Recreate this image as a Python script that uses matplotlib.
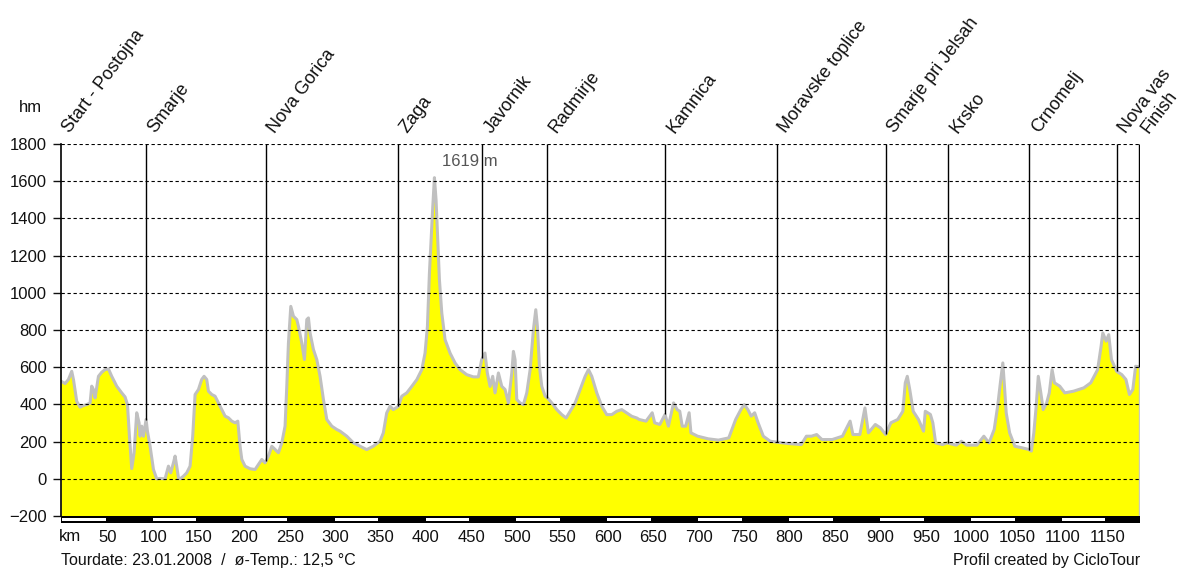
import numpy as np
import matplotlib
matplotlib.use('Agg')
import matplotlib.pyplot as plt
from matplotlib.patches import Rectangle

plt.rcParams['font.family'] = ['Liberation Sans', 'DejaVu Sans']

# elevation profile (km, m)
km = [0, 4.5, 8.2, 11.8, 13.7, 17.3, 21.0, 24.7, 28.3, 32.0, 33.8, 35.7, 37.5, 41.2, 44.8,
      48.5, 52.2, 55.8, 61.3, 66.8, 70.5, 73.1, 75.3, 77.8, 80.4, 83.3, 85.9, 87.0, 88.8,
      90.7, 93.6, 95.1, 98.0, 101.7, 105.3, 109.0, 114.5, 118.2, 120.7, 123.7, 125.5, 127.3,
      129.2, 131.0, 134.7, 138.3, 142.0, 144.9, 147.5, 151.2, 154.8, 157.4, 160.3, 162.2,
      165.9, 169.5, 173.2, 176.9, 180.5, 184.2, 187.9, 191.5, 194.5, 197.0, 198.9, 202.5,
      208.0, 213.5, 217.2, 220.9, 224.5, 228.2, 231.9, 235.5, 239.2, 242.9, 246.5, 248.4,
      250.2, 252.8, 255.7, 259.4, 261.2, 264.9, 267.8, 270.4, 272.2, 274.0, 277.7, 281.4,
      285.0, 288.7, 292.4, 297.9, 303.4, 307.0, 314.4, 321.7, 329.0, 336.3, 343.6, 350.9,
      354.6, 358.3, 362.0, 365.6, 371.2, 374.9, 380.4, 385.9, 391.4, 396.9, 400.5, 403.1,
      405.3, 407.1, 409.0, 410.8, 412.6, 414.5, 416.3, 418.9, 422.5, 428.0, 433.5, 439.0,
      446.3, 453.6, 459.1, 462.8, 466.4, 469.0, 472.0, 474.9, 477.5, 481.2, 484.9, 488.5,
      492.2, 495.9, 497.7, 499.5, 501.4, 505.0, 508.7, 512.4, 516.1, 519.7, 522.3, 524.1,
      526.3, 528.9, 532.6, 535.2, 539.9, 545.4, 550.9, 555.7, 560.1, 565.6, 571.1, 576.6,
      580.3, 583.9, 589.4, 594.9, 600.4, 605.9, 611.4, 616.9, 622.4, 627.9, 633.4, 636.0,
      643.6, 650.4, 653.1, 658.7, 664.5, 668.2, 673.9, 677.8, 680.7, 683.4, 687.2, 691.0,
      693.0, 700.4, 711.9, 723.2, 734.6, 742.2, 747.9, 751.7, 755.6, 759.3, 763.1, 766.9,
      772.6, 780.2, 787.7, 799.1, 814.3, 820.0, 825.6, 831.3, 837.1, 848.4, 859.7, 868.1,
      871.2, 878.8, 884.4, 888.2, 895.8, 901.4, 907.2, 912.9, 920.5, 926.1, 928.8, 931.0,
      933.7, 937.5, 943.3, 948.9, 950.8, 956.4, 959.1, 962.2, 969.8, 974.7, 984.9, 990.5,
      996.3, 1007.6, 1015.2, 1020.9, 1026.6, 1030.4, 1033.4, 1036.1, 1037.9, 1039.8, 1043.6,
      1049.3, 1057.0, 1064.5, 1067.5, 1070.2, 1072.8, 1075.1, 1077.9, 1080.5, 1084.3, 1087.2,
      1090.3, 1092.9, 1098.7, 1104.3, 1113.9, 1125.2, 1132.8, 1140.4, 1144.2, 1146.1, 1149.8,
      1152.6, 1155.6, 1161.3, 1167.0, 1171.5, 1175.4, 1179.1, 1182.2, 1186.0]
elev = [525, 512, 534, 578, 534, 417, 385, 394, 399, 408, 498, 480, 435, 551, 573,
        587, 591, 551, 498, 462, 440, 399, 229, 55, 140, 355, 301, 229, 283,
        229, 319, 256, 175, 50, 0, 2, 0, 68, 32, 86, 122, 68,
        5, 0, 14, 32, 68, 229, 453, 480, 534, 551, 534, 471,
        453, 444, 408, 372, 337, 328, 310, 301, 310, 175, 104, 68,
        54, 50, 77, 104, 86, 122, 175, 158, 140, 193, 283, 498,
        730, 927, 874, 856, 820, 730, 641, 856, 865, 784, 695, 641,
        551, 426, 319, 283, 265, 256, 229, 193, 175, 157, 175, 202,
        247, 354, 390, 372, 390, 444, 462, 497, 533, 587, 676, 819,
        1106, 1285, 1464, 1619, 1499, 1285, 1070, 891, 748, 676, 623, 587,
        560, 548, 548, 641, 676, 569, 497, 551, 462, 569, 497, 480,
        408, 569, 685, 641, 426, 408, 399, 462, 587, 802, 909, 819,
        605, 497, 444, 435, 408, 372, 345, 327, 363, 408, 480, 551,
        587, 551, 462, 390, 345, 345, 363, 372, 354, 336, 327, 319,
        310, 355, 301, 292, 346, 283, 408, 372, 363, 283, 283, 355,
        247, 229, 215, 208, 220, 319, 372, 399, 372, 337, 355, 301,
        229, 202, 197, 190, 184, 229, 229, 238, 211, 211, 229, 310,
        238, 238, 381, 247, 292, 274, 238, 301, 319, 363, 516, 551,
        480, 363, 319, 256, 363, 346, 301, 193, 184, 193, 181, 202,
        181, 181, 229, 193, 265, 390, 516, 623, 498, 355, 247,
        175, 167, 158, 149, 247, 390, 551, 462, 372, 408, 462,
        587, 516, 498, 462, 471, 489, 516, 587, 713, 784, 740,
        775, 641, 578, 560, 534, 453, 480, 605, 602]

place_names = ['Start - Postojna', 'Smarje', 'Nova Gorica', 'Zaga', 'Javornik', 'Radmirje',
               'Kamnica', 'Moravske toplice', 'Smarje pri Jelsah', 'Krsko', 'Crnomelj',
               'Nova vas', 'Finish']
place_km = [0, 93.5, 225.5, 371.1, 463.5, 535.0, 664.5, 787.7, 907.6, 975.8, 1065.4,
            1161.2, 1186.0]

km_ticks = list(range(50, 1151, 50))
elev_ticks = list(range(-200, 1801, 200))
km_end = 1187

W, H = 1180, 568
fig = plt.figure(figsize=(W / 100, H / 100), dpi=100)
ax = fig.add_axes([61 / W, (H - 516) / H, (1140 - 61) / W, (516 - 144) / H])
ax.set_xlim(0, km_end)
ax.set_ylim(-200, 1800)

# profile
ax.fill_between(km, elev, -200, color='#ffff00', lw=0, zorder=1)
ax.plot(km, elev, color='#c0c0c0', lw=2.2, zorder=2, solid_joinstyle='round')
ax.plot([km[-1], km[-1]], [-200, elev[-1]], color='#c8c8c8', lw=1, zorder=2)

# dashed grid
for y in elev_ticks[1:]:
    ax.axhline(y, color='black', lw=0.8, ls=(0, (3, 2.4)), zorder=3)

# place markers
ends = np.interp(place_km, km, elev)
ax.vlines(place_km[1:], ends[1:], 1800, color='black', lw=1.0, zorder=4)
for name, k in zip(place_names, place_km):
    ax.annotate(name, xy=(k, 1800), xytext=(9, 10), textcoords='offset pixels',
                rotation=53, rotation_mode='anchor', ha='left', va='baseline',
                fontsize=13, color='#111111', annotation_clip=False)

# max elevation
i_max = int(np.argmax(elev))
ax.annotate(f'{elev[i_max]} m', xy=(km[i_max], elev[i_max]), xytext=(8, 16),
            textcoords='offset pixels', ha='left', va='center', fontsize=12,
            color='#555555')

for s in ['top', 'right', 'bottom']:
    ax.spines[s].set_visible(False)
ax.spines['left'].set_color('black')
ax.spines['left'].set_linewidth(1.2)
ax.set_xticks([])
ax.set_yticks(elev_ticks)
ax.tick_params(axis='y', length=6, width=1, pad=4, labelsize=12, colors='#111111')

# km bar
bax = fig.add_axes([61 / W, (H - 523) / H, (1140 - 61) / W, 7 / H])
bax.set_xlim(0, km_end)
bax.set_ylim(0, 1)
bax.add_patch(Rectangle((0, 0), km_end, 1, color='black', lw=0))
edges = [0] + km_ticks + [km_end]
for j in range(0, len(edges) - 1, 2):
    bax.add_patch(Rectangle((edges[j] + 1, 0.25), edges[j + 1] - edges[j] - 2, 0.5,
                            color='white', lw=0))
for s in bax.spines.values():
    s.set_visible(False)
bax.set_yticks([])
bax.set_xticks([k + 1.5 for k in km_ticks])
bax.set_xticklabels([str(k) for k in km_ticks])
bax.tick_params(axis='x', length=0, pad=5, labelsize=12, colors='#111111')
bax.text(10, -0.9, 'km', ha='center', va='top', fontsize=12, color='#111111')

fig.text(30 / W, 1 - 107 / H, 'hm', ha='center', va='center', fontsize=12, color='#111111')
fig.text(61 / W, 1 - 560 / H, 'Tourdate: 23.01.2008  /  ø-Temp.: 12,5 °C',
         ha='left', va='center', fontsize=11.5, color='#111111')
fig.text(1140 / W, 1 - 560 / H, 'Profil created by CicloTour',
         ha='right', va='center', fontsize=11.5, color='#111111')

fig.savefig('out.png', dpi=100)
